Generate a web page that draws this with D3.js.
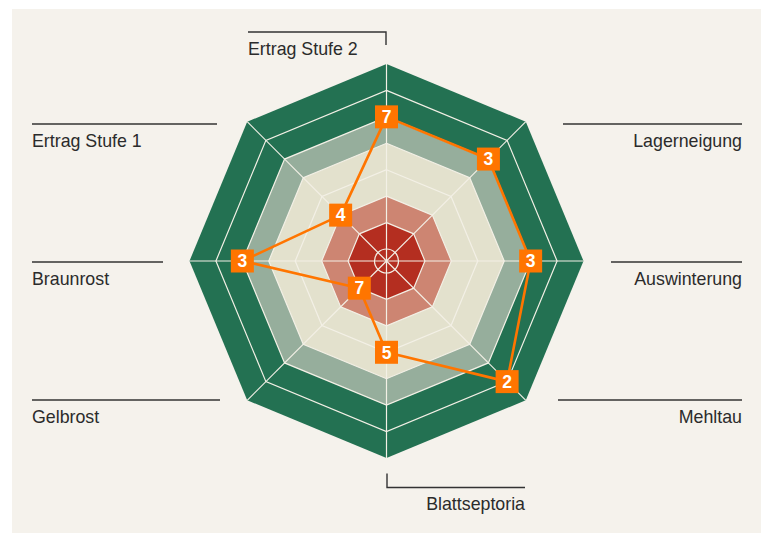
<!DOCTYPE html>
<html>
<head>
<meta charset="utf-8">
<script src="https://cdn.jsdelivr.net/npm/d3@7"></script>
<style>
  body { margin: 0; background: #fff; }
  text { font-family: "Liberation Sans", Arial, sans-serif; }
</style>
</head>
<body>
<div id="chart"></div>
<script>

// categories clockwise from the top
var categories = ["Ertrag Stufe 2", "Lagerneigung", "Auswinterung", "Mehltau",
                  "Blattseptoria", "Gelbrost", "Braunrost", "Ertrag Stufe 1"];
// scores as printed (1-9)
var scores = [7, 3, 3, 2, 5, 7, 3, 4];
// for disease / lodging a low score is good, so the axis is flipped
var inverted = [false, true, true, true, true, true, true, false];

// coloured bands: upper bound of each band on the 1-9 scale
var bandLevels = [9, 7, 6, 4, 3];
var bandColors = ["#237152", "#96ae9c", "#e3e1cd", "#cd8572", "#b42e20"];
var gridLevels = [3, 4, 5, 6, 7, 8];

var width = 765, height = 533;
var cx = 386.5, cy = 261;

var svg = d3.select("#chart").append("svg")
    .attr("width", width)
    .attr("height", height);

svg.append("rect")
    .attr("x", 12).attr("y", 9)
    .attr("width", 749).attr("height", 524)
    .attr("fill", "#f5f2ec");

var r = d3.scaleLinear().domain([2, 9]).range([12, 197]);
var angle = d3.scaleLinear().domain([0, categories.length]).range([0, 2 * Math.PI]);

function pt(i, v) {
    var a = angle(i);
    return [cx + r(v) * Math.sin(a), cy - r(v) * Math.cos(a)];
}
function ring(v) {
    return categories.map((c, i) => pt(i, v));
}

var g = svg.append("g");

g.selectAll("polygon.band")
    .data(bandLevels)
    .enter()
    .append("polygon")
    .attr("class", "band")
    .attr("points", d => ring(d).join(" "))
    .attr("fill", (d, i) => bandColors[i]);

g.selectAll("polygon.grid")
    .data(gridLevels)
    .enter()
    .append("polygon")
    .attr("class", "grid")
    .attr("points", d => ring(d).join(" "))
    .attr("fill", "none")
    .attr("stroke", "#f3f0e6")
    .attr("stroke-width", 1.2);

g.append("circle")
    .attr("cx", cx).attr("cy", cy)
    .attr("r", r(2))
    .attr("fill", "none")
    .attr("stroke", "#f3f0e6")
    .attr("stroke-width", 1.2);

g.selectAll("line.spoke")
    .data(categories)
    .enter()
    .append("line")
    .attr("class", "spoke")
    .attr("x1", cx).attr("y1", cy)
    .attr("x2", (d, i) => pt(i, 9)[0])
    .attr("y2", (d, i) => pt(i, 9)[1])
    .attr("stroke", "#f3f0e6")
    .attr("stroke-width", 1.2);

// labels with leader lines
var labelLayout = [
    {x1: 248, x2: 386, y: 32, tick: 13, tx: 248, anchor: "start"},
    {x1: 563, x2: 742, y: 124, tick: 0, tx: 742, anchor: "end"},
    {x1: 611, x2: 742, y: 262, tick: 0, tx: 742, anchor: "end"},
    {x1: 558, x2: 742, y: 400, tick: 0, tx: 742, anchor: "end"},
    {x1: 387, x2: 525, y: 487.5, tick: -14, tx: 525, anchor: "end"},
    {x1: 32, x2: 220, y: 400, tick: 0, tx: 32, anchor: "start"},
    {x1: 32, x2: 163, y: 262, tick: 0, tx: 32, anchor: "start"},
    {x1: 32, x2: 217, y: 124, tick: 0, tx: 32, anchor: "start"}
];

var labels = svg.append("g").selectAll("g")
    .data(categories)
    .enter()
    .append("g");

labels.append("path")
    .attr("d", (d, i) => {
        var l = labelLayout[i];
        var p = "M" + l.x1 + "," + l.y + "H" + l.x2;
        if (l.tick > 0) p += "V" + (l.y + l.tick);
        if (l.tick < 0) p = "M" + l.x1 + "," + (l.y + l.tick) + "V" + l.y + "H" + l.x2;
        return p;
    })
    .attr("fill", "none")
    .attr("stroke", "#333")
    .attr("stroke-width", 1.4);

labels.append("text")
    .attr("x", (d, i) => labelLayout[i].tx)
    .attr("y", (d, i) => labelLayout[i].y + 22.5)
    .attr("text-anchor", (d, i) => labelLayout[i].anchor)
    .attr("font-size", 17.8)
    .attr("fill", "#2b2b2b")
    .text(d => d);

// the variety profile
var values = scores.map((s, i) => inverted[i] ? 10 - s : s);
var points = values.map((v, i) => pt(i, v));

svg.append("path")
    .datum(points)
    .attr("d", d3.line().curve(d3.curveLinearClosed))
    .attr("fill", "none")
    .attr("stroke", "#ff7500")
    .attr("stroke-width", 2.6)
    .attr("stroke-linejoin", "round");

var marks = svg.append("g").selectAll("g")
    .data(scores)
    .enter()
    .append("g")
    .attr("transform", (d, i) => "translate(" + points[i][0] + "," + points[i][1] + ")");

marks.append("rect")
    .attr("x", -11.5).attr("y", -11.5)
    .attr("width", 23).attr("height", 23)
    .attr("fill", "#ff7500");

marks.append("text")
    .attr("text-anchor", "middle")
    .attr("y", 6.3)
    .attr("font-size", 17.5)
    .attr("font-weight", "bold")
    .attr("fill", "#fff")
    .text(d => d);

</script>
</body>
</html>
